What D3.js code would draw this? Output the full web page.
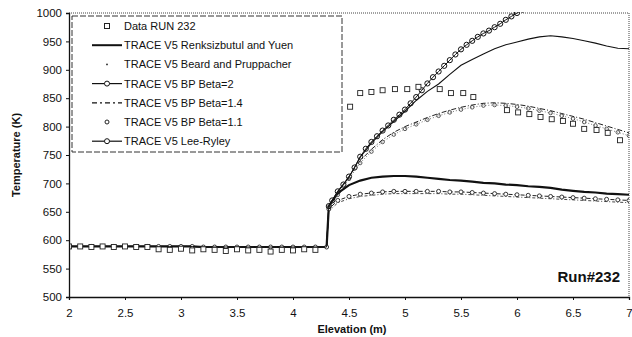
<!DOCTYPE html>
<html>
<head>
<meta charset="utf-8">
<script src="https://cdn.jsdelivr.net/npm/d3@7"></script>
<style>
body { margin: 0; background: #fff; }
text { font-family: "Liberation Sans", Arial, sans-serif; fill: #111; }
</style>
</head>
<body>
<svg width="632" height="337"></svg>
<script>
// elevations shared by most of the TRACE curves
flatX = [2.0, 2.1, 2.2, 2.3, 2.4, 2.5, 2.6, 2.7, 2.8, 2.9, 3.0, 3.1, 3.2, 3.3, 3.4, 3.5, 3.6, 3.7, 3.8, 3.9, 4.0, 4.1, 4.2, 4.3]
flatT = [589, 589, 589, 589, 589, 589, 589, 589, 589, 589, 589, 589, 588, 588, 588, 588, 588, 588, 588, 588, 588, 588, 588, 588]
riseX = [4.32, 4.4, 4.5, 4.6, 4.7, 4.8, 4.9, 5.0, 5.1, 5.2, 5.3, 5.4, 5.5, 5.6, 5.7, 5.8, 5.9, 6.0, 6.1, 6.2, 6.3, 6.4, 6.5, 6.6, 6.7, 6.8, 6.9, 7.0]

dataX = [2.0, 2.1, 2.2, 2.3, 2.4, 2.5, 2.6, 2.7, 2.8, 2.9, 3.0, 3.1, 3.2, 3.3, 3.4, 3.5, 3.6, 3.7, 3.8, 3.9, 4.0, 4.1, 4.2,
         4.51, 4.6, 4.7, 4.8, 4.91, 5.02, 5.12, 5.31, 5.41, 5.52, 5.61, 5.91, 6.01, 6.11, 6.21, 6.31, 6.41, 6.5, 6.6, 6.71, 6.81, 6.92]
dataT = [589, 589, 588, 589, 588, 589, 588, 588, 584, 583, 585, 582, 584, 583, 581, 584, 582, 583, 580, 583, 582, 584, 583,
         835, 859, 861, 864, 866, 866, 870, 866, 859, 859, 852, 829, 825, 822, 817, 813, 810, 805, 796, 794, 789, 776]

renksizT = [660, 683, 697, 705, 710, 712, 713, 713, 712, 710, 708, 706, 705, 703, 701, 700, 698, 697, 695, 694, 692, 689, 687, 685, 684, 682, 681, 680]
beardT   = [660, 686, 711, 746, 771, 791, 809, 827, 846, 862, 875, 892, 908, 918, 928, 937, 944, 949, 954, 958, 960, 958, 955, 951, 947, 942, 938, 937]
beta14T  = [662, 684, 712, 740, 760, 777, 790, 800, 808, 816, 823, 829, 834, 838, 841, 842, 841, 839, 836, 832, 828, 823, 818, 813, 807, 801, 795, 789]
beta11T  = [658, 680, 708, 736, 756, 773, 786, 796, 804, 812, 819, 825, 830, 834, 837, 838, 837, 835, 832, 828, 824, 819, 814, 808, 802, 796, 790, 784]
leeT     = [655, 670, 677, 681, 683, 685, 686, 686, 686, 686, 686, 685, 685, 684, 683, 682, 681, 680, 679, 678, 677, 676, 675, 674, 673, 672, 671, 670]

// Beta=2 is sampled finer, it leaves the plot near 6 m
beta2X = [4.32, 4.35, 4.4, 4.45, 4.5, 4.55, 4.6, 4.65, 4.7, 4.75, 4.8, 4.85, 4.9, 4.95, 5.0, 5.05, 5.1, 5.15, 5.2, 5.25,
          5.3, 5.35, 5.4, 5.45, 5.5, 5.55, 5.6, 5.65, 5.7, 5.75, 5.8, 5.85, 5.9, 5.95, 6.0, 6.05]
beta2T = [660, 670, 686, 698, 712, 728, 747, 761, 773, 783, 793, 802, 812, 821, 830, 841, 852, 864, 876, 887,
          897, 907, 917, 927, 936, 944, 951, 958, 964, 969, 975, 981, 988, 994, 1000, 1006]

xTicks = [2, 2.5, 3, 3.5, 4, 4.5, 5, 5.5, 6, 6.5, 7]
yTicks = [500, 550, 600, 650, 700, 750, 800, 850, 900, 950, 1000]
legendNames = ['Data RUN 232', 'TRACE V5 Renksizbutul and Yuen', 'TRACE V5 Beard and Pruppacher',
               'TRACE V5 BP Beta=2', 'TRACE V5 BP Beta=1.4', 'TRACE V5 BP Beta=1.1', 'TRACE V5 Lee-Ryley']

let svg = d3.select('svg')
let x = d3.scaleLinear().domain([2, 7]).range([69, 629])
let y = d3.scaleLinear().domain([500, 1000]).range([297, 13])

svg.append('clipPath').attr('id', 'plot').append('rect')
    .attr('x', x(2)).attr('y', y(1000) - 1).attr('width', x(7) - x(2)).attr('height', y(500) - y(1000) + 1)

// a curve = flat part + jump + rising part
flat = flatX.map((v, i) => [v, flatT[i]])
curve = ys => flat.concat(riseX.map((v, i) => [v, ys[i]]))

let line = d3.line().x(d => x(d[0])).y(d => y(d[1]))
let g = svg.append('g').attr('clip-path', 'url(#plot)')

// Beard and Pruppacher: thin
g.append('path').attr('d', line(curve(beardT))).attr('fill', 'none').attr('stroke', '#111').attr('stroke-width', 1.1)

// Renksizbutul: thick solid
g.append('path').attr('d', line(curve(renksizT))).attr('fill', 'none').attr('stroke', '#111').attr('stroke-width', 2.2)

// Beta 1.4: dash dot
g.append('path').attr('d', line(curve(beta14T))).attr('fill', 'none').attr('stroke', '#222').attr('stroke-width', 1)
    .attr('stroke-dasharray', '5,2,1,2')

// Beta 1.1: circle markers only
let b11 = riseX.map((v, i) => [v, beta11T[i]])
g.append('path').attr('d', line(b11)).attr('fill', 'none').attr('stroke', '#555')
    .attr('stroke-width', 0.8).attr('stroke-dasharray', '1,2')
g.selectAll('.b11').data(b11).enter().append('circle')
    .attr('cx', d => x(d[0])).attr('cy', d => y(d[1])).attr('r', 1.8)
    .attr('fill', 'none').attr('stroke', '#333').attr('stroke-width', 0.8)

// Lee-Ryley: line with small circles
let lee = curve(leeT)
g.append('path').attr('d', line(lee)).attr('fill', 'none').attr('stroke', '#222').attr('stroke-width', 1)
    .attr('stroke-dasharray', '4,2')
g.append('path').attr('d', line(riseX.map((v, i) => [v, leeT[i] - 4]))).attr('fill', 'none').attr('stroke', '#333')
    .attr('stroke-width', 0.9).attr('stroke-dasharray', '3,2,1,2')
g.selectAll('.lee').data(lee).enter().append('circle')
    .attr('cx', d => x(d[0])).attr('cy', d => y(d[1])).attr('r', 2)
    .attr('fill', '#fff').attr('stroke', '#222').attr('stroke-width', 0.9)

// Beta 2: line with dense circle markers
let b2 = flat.concat(beta2X.map((v, i) => [v, beta2T[i]]))
g.append('path').attr('d', line(b2)).attr('fill', 'none').attr('stroke', '#111').attr('stroke-width', 1)
g.selectAll('.b2').data(b2.filter(d => d[0] > 4.3)).enter().append('circle')
    .attr('cx', d => x(d[0])).attr('cy', d => y(d[1])).attr('r', 2.6)
    .attr('fill', 'none').attr('stroke', '#111').attr('stroke-width', 1)

// data squares
g.selectAll('.sq').data(dataX.map((v, i) => [v, dataT[i]])).enter().append('rect')
    .attr('x', d => x(d[0]) - 2.5).attr('y', d => y(d[1]) - 2.5).attr('width', 5).attr('height', 5)
    .attr('fill', '#fff').attr('stroke', '#222').attr('stroke-width', 0.9)

// frame: dotted top and right, solid axes
svg.append('line').attr('x1', x(2)).attr('x2', x(7)).attr('y1', y(1000)).attr('y2', y(1000))
    .attr('stroke', '#444').attr('stroke-dasharray', '1,1')
svg.append('line').attr('x1', x(7)).attr('x2', x(7)).attr('y1', y(1000)).attr('y2', y(500))
    .attr('stroke', '#444').attr('stroke-dasharray', '1,1')

let xAxis = svg.append('g').attr('transform', `translate(0,${y(500)})`)
    .call(d3.axisBottom(x).tickValues(xTicks).tickSize(3).tickFormat(d => d))
let yAxis = svg.append('g').attr('transform', `translate(${x(2)},0)`)
    .call(d3.axisLeft(y).tickValues(yTicks).tickSize(3).tickFormat(d => d))
;[xAxis, yAxis].forEach(a => {
    a.select('.domain').attr('stroke', '#111').attr('stroke-width', 1.3)
    a.selectAll('.tick line').attr('stroke', '#111')
    a.selectAll('text').style('font-size', '11.5px').attr('fill', '#111')
        .style('font-family', '"Liberation Sans", Arial, sans-serif')
})
xAxis.selectAll('text').attr('dy', '1.25em')
yAxis.selectAll('text').attr('x', -7)

svg.append('text').attr('x', 352).attr('y', 333).attr('text-anchor', 'middle')
    .style('font-size', '11px').style('font-weight', 'bold').text('Elevation (m)')
svg.append('text').attr('transform', 'translate(20,155) rotate(-90)').attr('text-anchor', 'middle')
    .style('font-size', '11px').style('font-weight', 'bold').text('Temperature (K)')
svg.append('text').attr('x', 620).attr('y', 282).attr('text-anchor', 'end')
    .style('font-size', '15px').style('font-weight', 'bold').text('Run#232')

// legend
let lg = svg.append('g')
lg.append('rect').attr('x', 72).attr('y', 16).attr('width', 270).attr('height', 136)
    .attr('fill', '#fff').attr('stroke', '#333').attr('stroke-dasharray', '6,2')
let rows = lg.selectAll('.row').data(legendNames).enter().append('g')
    .attr('transform', (d, i) => `translate(0,${26 + i * 19.2})`)
rows.append('text').attr('x', 124).attr('y', 4).style('font-size', '11px').text(d => d)
rows.each(function (d, i) {
    let r = d3.select(this)
    if (i == 0) r.append('rect').attr('x', 104.5).attr('y', -2.5).attr('width', 5).attr('height', 5)
        .attr('fill', '#fff').attr('stroke', '#222')
    if (i == 1) r.append('line').attr('x1', 92).attr('x2', 122).attr('stroke', '#111').attr('stroke-width', 2)
    if (i == 2) r.append('circle').attr('cx', 107).attr('r', 0.9).attr('fill', '#222')
    if (i == 3 || i == 6) {
        r.append('line').attr('x1', 92).attr('x2', 122).attr('stroke', '#111').attr('stroke-width', 1.2)
        r.append('circle').attr('cx', 107).attr('r', 2.5).attr('fill', '#fff').attr('stroke', '#111')
    }
    if (i == 4) r.append('line').attr('x1', 92).attr('x2', 122).attr('stroke', '#111').attr('stroke-width', 1.2)
        .attr('stroke-dasharray', '5,3,2,3')
    if (i == 5) r.append('circle').attr('cx', 107).attr('r', 2).attr('fill', '#fff').attr('stroke', '#222')
})
</script>
</body>
</html>
